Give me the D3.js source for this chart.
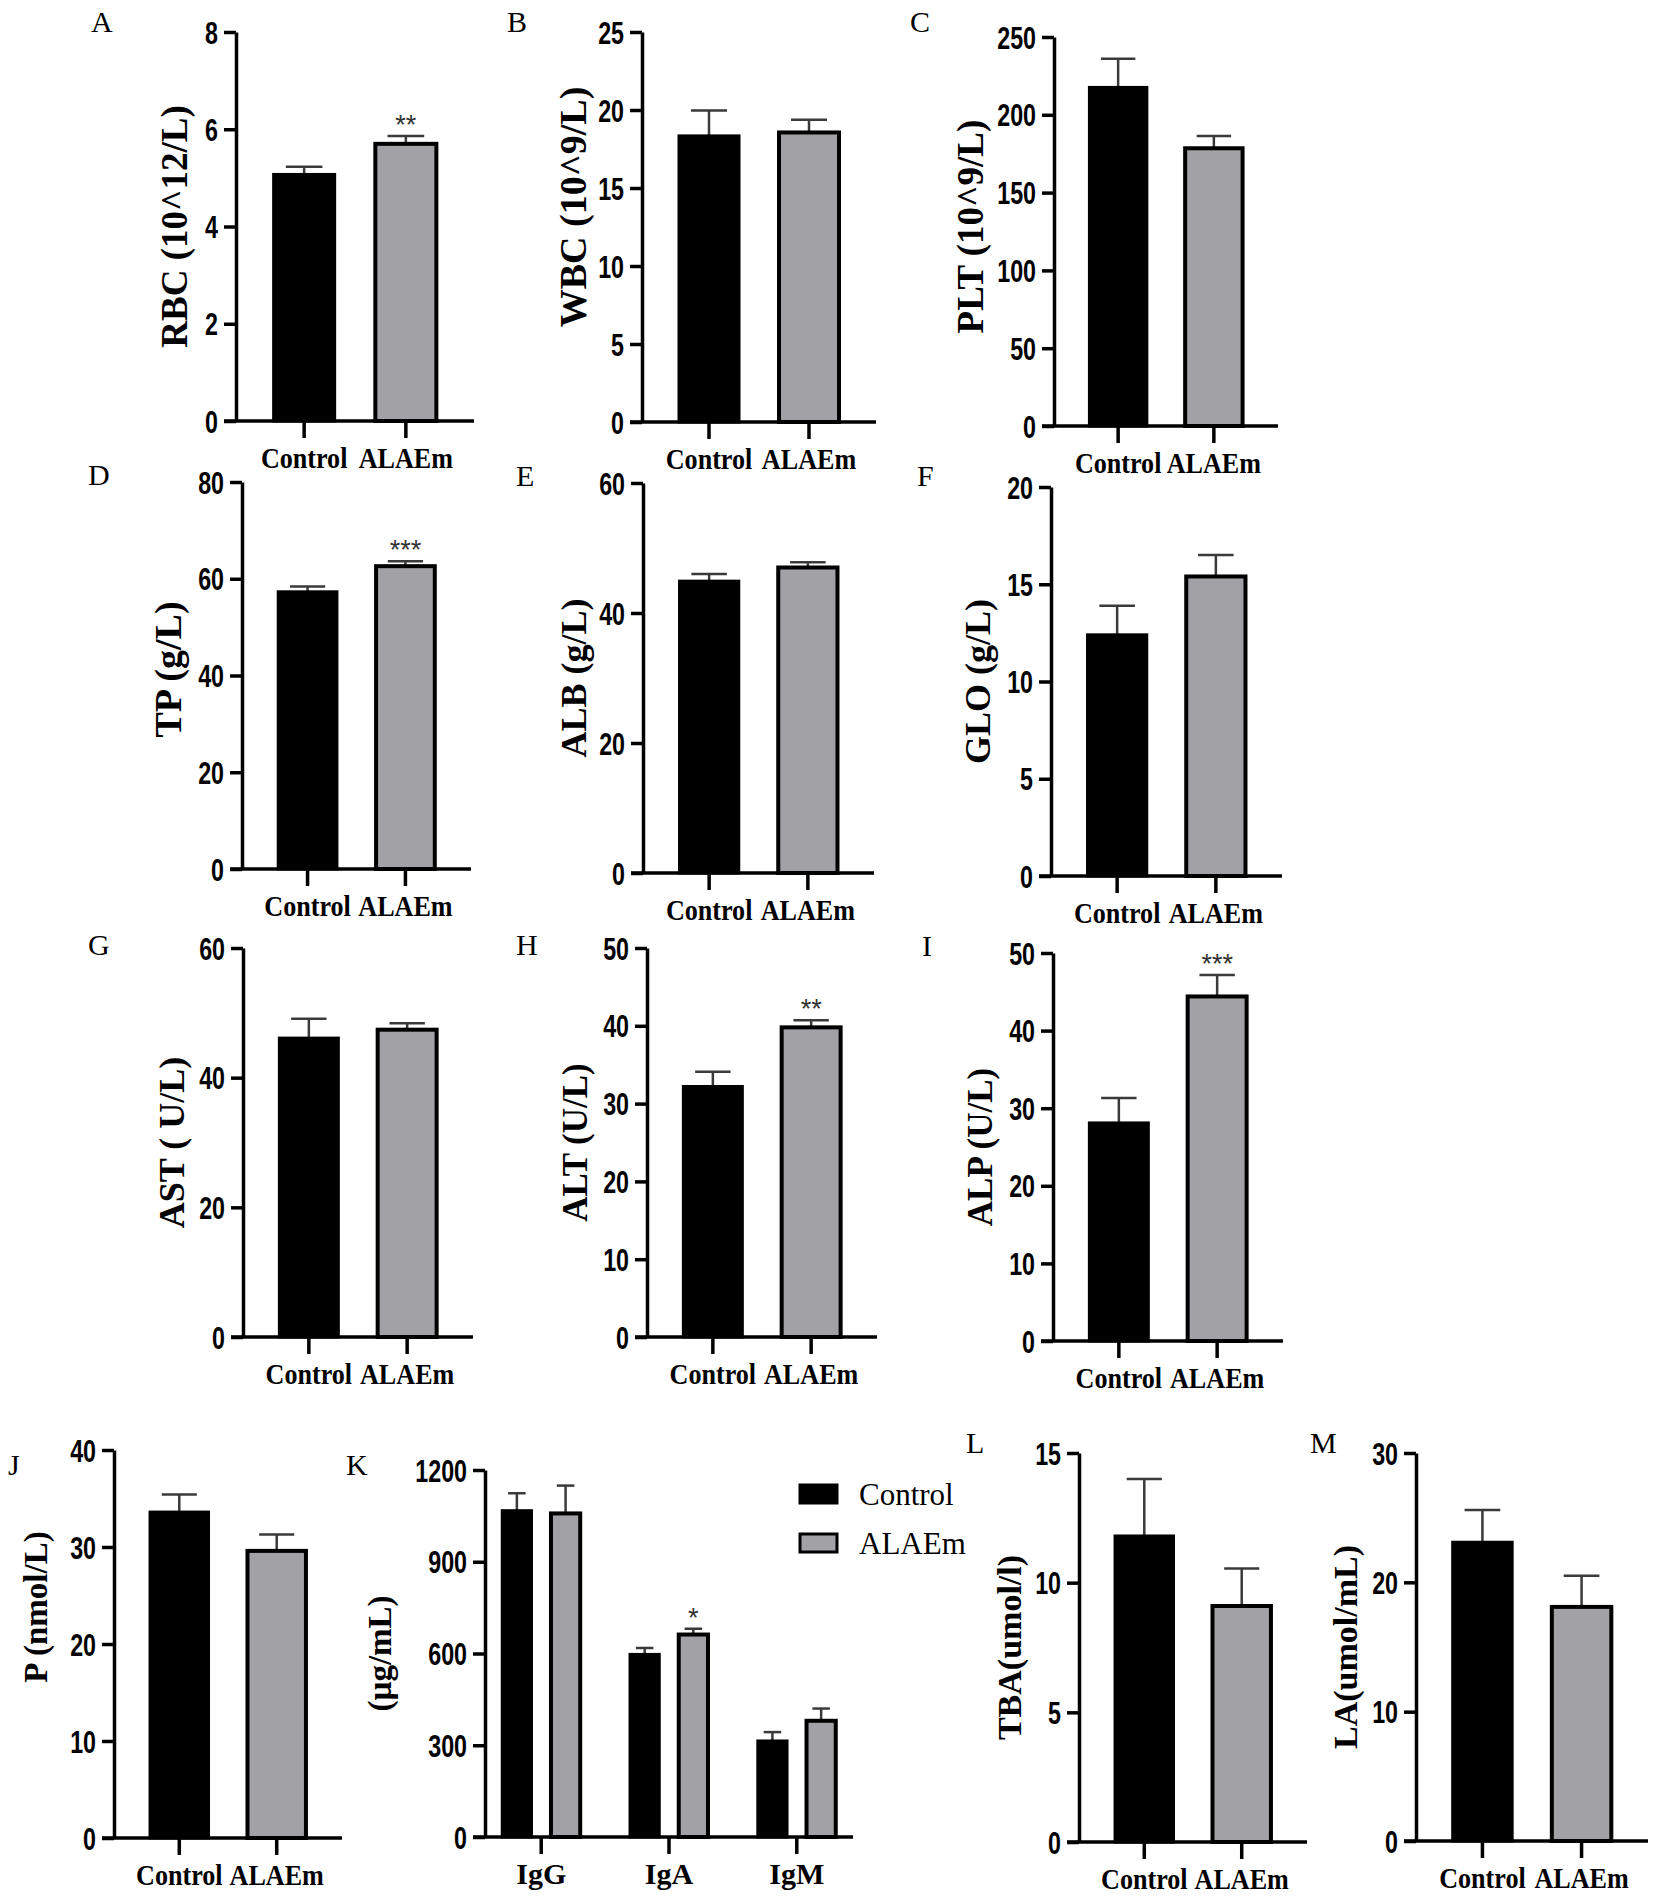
<!DOCTYPE html>
<html lang="en">
<head>
    <meta charset="UTF-8">
    <title>Blood and serum indices, Control vs ALAEm</title>
    <script src="https://d3js.org/d3.v7.min.js"></script>
    <style>
        body { margin: 0; background: #fff; }
    </style>
</head>
<body>
<div id="fig"></div>

<script>
    // ---- values ------------------------------------------------------
    const groups = ["Control", "ALAEm"];

    // two-bar panels (A-J, L, M)
    const panelIds = ["A", "B", "C", "D", "E", "F", "G", "H", "I", "J", "L", "M"];
    const yTitles = ["RBC (10^12/L)", "WBC (10^9/L)", "PLT (10^9/L)", "TP (g/L)", "ALB (g/L)", "GLO (g/L)",
        "AST ( U/L)", "ALT (U/L)", "ALP (U/L)", "P (nmol/L)", "TBA(umol/l)", "LA(umol/mL)"];
    const yTicks = [
        [0, 2, 4, 6, 8], [0, 5, 10, 15, 20, 25], [0, 50, 100, 150, 200, 250],
        [0, 20, 40, 60, 80], [0, 20, 40, 60], [0, 5, 10, 15, 20],
        [0, 20, 40, 60], [0, 10, 20, 30, 40, 50], [0, 10, 20, 30, 40, 50],
        [0, 10, 20, 30, 40], [0, 5, 10, 15], [0, 10, 20, 30]
    ];
    const controlMean = [5.07, 18.34, 217.6, 57.3, 44.9, 12.4, 46.1, 32.2, 28.1, 33.6, 11.8, 23.1];
    const controlErr  = [0.16, 1.63, 18.4, 1.1, 1.1, 1.5, 3.0, 1.9, 3.2, 1.8, 2.2, 2.5];
    const alaemMean   = [5.70, 18.56, 178.5, 62.6, 47.0, 15.4, 47.4, 39.8, 44.4, 29.6, 9.1, 18.1];
    const alaemErr    = [0.16, 0.81, 7.8, 1.0, 0.8, 1.1, 1.0, 0.9, 2.75, 1.7, 1.45, 2.4];
    const alaemStars  = ["**", "", "", "***", "", "", "", "**", "***", "", "", ""];

    // panel K: immunoglobulins
    const igClasses = ["IgG", "IgA", "IgM"];
    const igControlMean = [1067, 597, 314];
    const igControlErr  = [57, 21, 29];
    const igAlaemMean   = [1058, 662, 380];
    const igAlaemErr    = [91, 19, 40];
    const igStars       = ["", "*", ""];
    const igTicks = [0, 300, 600, 900, 1200];
    const igTitle = "(µg/mL)";

    // ---- layout (pixels) --------------------------------------------
    // ax: y axis x, ex: end of x axis, top/zero: y of max tick and of 0,
    // tx: centre of y title, tdy: title shift, ts: title size, lx/ly: panel letter
    const layout = {
        A: {ax: 236, ex: 474, top: 32, zero: 421, tx: 174, tdy: 0, ts: 37, lx: 91, ly: 32},
        B: {ax: 642, ex: 876, top: 32, zero: 422, tx: 573, tdy: -20, ts: 38, lx: 507, ly: 32},
        C: {ax: 1054, ex: 1278, top: 37, zero: 426, tx: 970, tdy: -5, ts: 37, lx: 910, ly: 32},
        D: {ax: 242, ex: 471, top: 482, zero: 869, tx: 168, tdy: -6, ts: 38, lx: 88, ly: 485},
        E: {ax: 643, ex: 874, top: 483, zero: 873, tx: 573, tdy: 0, ts: 36, lx: 516, ly: 486},
        F: {ax: 1051, ex: 1282, top: 487, zero: 876, tx: 977, tdy: 0, ts: 36, lx: 917, ly: 486},
        G: {ax: 243, ex: 473, top: 948, zero: 1337, tx: 171, tdy: 0, ts: 36, lx: 88, ly: 955},
        H: {ax: 647, ex: 877, top: 948, zero: 1337, tx: 575, tdy: 0, ts: 35, lx: 516, ly: 955},
        I: {ax: 1053, ex: 1283, top: 953, zero: 1341, tx: 980, tdy: 0, ts: 35, lx: 922, ly: 956},
        J: {ax: 114, ex: 342, top: 1450, zero: 1838, tx: 35, tdy: -37, ts: 33, lx: 8, ly: 1475},
        K: {ax: 485, ex: 853, top: 1470, zero: 1837, tx: 379, tdy: 0, ts: 33, lx: 346, ly: 1475},
        L: {ax: 1079, ex: 1307, top: 1453, zero: 1842, tx: 1009, tdy: 0, ts: 34, lx: 966, ly: 1453},
        M: {ax: 1416, ex: 1648, top: 1453, zero: 1841, tx: 1345, tdy: 0, ts: 34, lx: 1310, ly: 1453}
    };

    const fillOf = {Control: "#000000", ALAEm: "#a2a2a6"};
    const sansFont = "'Liberation Sans', Arial, sans-serif";
    const serifFont = "'Liberation Serif', 'Times New Roman', serif";
    const axisW = 3.5;

    const svg = d3.select("#fig").append("svg")
        .attr("width", 1654)
        .attr("height", 1897)
        .style("background", "#fff");

    // squeeze a text horizontally, the figure uses condensed lettering
    function condense(sel, k) {
        sel.each(function () {
            const w = this.getComputedTextLength();
            d3.select(this)
                .attr("textLength", w * k)
                .attr("lengthAdjust", "spacingAndGlyphs");
        });
    }

    // axes, titles and letter shared by every panel
    function drawFrame(id, L, yScale, ticks, title, xScale, xLabelSize, xSqueeze) {
        const yAxis = svg.append("g")
            .attr("transform", `translate(${L.ax},0)`)
            .call(d3.axisLeft(yScale)
                .tickValues(ticks)
                .tickFormat(d3.format("d"))
                .tickSize(12)
                .tickPadding(6)
                .tickSizeOuter(0));
        yAxis.select(".domain").attr("stroke", "#000").attr("stroke-width", axisW);
        yAxis.selectAll(".tick line").attr("stroke", "#000").attr("stroke-width", axisW);
        yAxis.selectAll(".tick text")
            .attr("font-family", sansFont)
            .attr("font-weight", "bold")
            .attr("font-size", 31)
            .attr("dy", "0.36em")
            .attr("fill", "#000")
            .call(condense, 0.75);

        // x baseline starts one tick-length left of the y axis
        svg.append("line")
            .attr("x1", L.ax - 12)
            .attr("x2", L.ex)
            .attr("y1", L.zero)
            .attr("y2", L.zero)
            .attr("stroke", "#000")
            .attr("stroke-width", axisW);

        const xAxis = svg.append("g")
            .attr("transform", `translate(0,${L.zero})`)
            .call(d3.axisBottom(xScale).tickSize(17).tickSizeOuter(0));
        xAxis.select(".domain").remove();
        xAxis.selectAll(".tick line").attr("stroke", "#000").attr("stroke-width", axisW);
        xAxis.selectAll(".tick text")
            .attr("y", 47)
            .attr("dy", 0)
            .attr("font-family", serifFont)
            .attr("font-weight", "bold")
            .attr("font-size", xLabelSize)
            .attr("fill", "#000")
            .call(condense, xSqueeze);

        const midY = (L.top + L.zero) / 2 + L.tdy;
        svg.append("text")
            .attr("transform", `translate(${L.tx},${midY}) rotate(-90)`)
            .attr("text-anchor", "middle")
            .attr("dy", "0.35em")
            .attr("font-family", serifFont)
            .attr("font-weight", "bold")
            .attr("font-size", L.ts)
            .text(title);

        svg.append("text")
            .attr("x", L.lx)
            .attr("y", L.ly)
            .attr("font-family", serifFont)
            .attr("font-size", 30)
            .text(id);
    }

    // error bar + bar + star for one mean
    function drawBar(yScale, x0, bw, zero, group, mean, err, star, strokeW) {
        const cx = x0 + bw / 2;
        const capW = bw * 0.6;
        const yTop = yScale(mean + err);
        svg.append("line")
            .attr("x1", cx).attr("x2", cx)
            .attr("y1", yScale(mean)).attr("y2", yTop)
            .attr("stroke", "#3a3a3a").attr("stroke-width", 2.5);
        svg.append("line")
            .attr("x1", cx - capW / 2).attr("x2", cx + capW / 2)
            .attr("y1", yTop).attr("y2", yTop)
            .attr("stroke", "#3a3a3a").attr("stroke-width", 2.5);
        svg.append("rect")
            .attr("x", x0)
            .attr("y", yScale(mean))
            .attr("width", bw)
            .attr("height", zero - yScale(mean))
            .attr("fill", fillOf[group])
            .attr("stroke", "#000")
            .attr("stroke-width", strokeW);
        if (star) {
            svg.append("text")
                .attr("x", cx)
                .attr("y", yTop - 2)
                .attr("text-anchor", "middle")
                .attr("font-family", sansFont)
                .attr("font-size", 27)
                .attr("fill", "#333")
                .text(star);
        }
    }

    // ---- two-bar panels ---------------------------------------------
    panelIds.forEach((id, i) => {
        const L = layout[id];
        const ticks = yTicks[i];
        const yScale = d3.scaleLinear()
            .domain([0, d3.max(ticks)])
            .range([L.zero, L.top]);
        const xScale = d3.scaleBand()
            .domain(groups)
            .range([L.ax, L.ex])
            .paddingInner(0.4)
            .paddingOuter(0.37);

        drawFrame(id, L, yScale, ticks, yTitles[i], xScale, 30, 0.87);

        const bw = xScale.bandwidth();
        drawBar(yScale, xScale("Control"), bw, L.zero, "Control", controlMean[i], controlErr[i], "", 3);
        drawBar(yScale, xScale("ALAEm"), bw, L.zero, "ALAEm", alaemMean[i], alaemErr[i], alaemStars[i], 4);
    });

    // ---- panel K: grouped bars --------------------------------------
    {
        const L = layout.K;
        const yScale = d3.scaleLinear()
            .domain([0, d3.max(igTicks)])
            .range([L.zero, L.top]);
        const xScale = d3.scaleBand()
            .domain(igClasses)
            .range([L.ax, L.ex])
            .paddingInner(0.39)
            .paddingOuter(0.135);
        const subScale = d3.scaleBand()
            .domain(groups)
            .range([0, xScale.bandwidth()])
            .paddingInner(0.4);

        drawFrame("K", L, yScale, igTicks, igTitle, xScale, 30, 1);

        const bw = subScale.bandwidth();
        igClasses.forEach((c, j) => {
            drawBar(yScale, xScale(c) + subScale("Control"), bw, L.zero, "Control",
                igControlMean[j], igControlErr[j], "", 3);
            drawBar(yScale, xScale(c) + subScale("ALAEm"), bw, L.zero, "ALAEm",
                igAlaemMean[j], igAlaemErr[j], igStars[j], 4);
        });

        // legend
        const legend = svg.append("g").attr("transform", "translate(800,1485)");
        groups.forEach((g, j) => {
            legend.append("rect")
                .attr("x", 0)
                .attr("y", j * 49)
                .attr("width", 37)
                .attr("height", 18)
                .attr("fill", fillOf[g])
                .attr("stroke", "#000")
                .attr("stroke-width", 3);
            legend.append("text")
                .attr("x", 59)
                .attr("y", j * 49 + 20)
                .attr("font-family", serifFont)
                .attr("font-size", 31)
                .text(g);
        });
    }
</script>
</body>
</html>
